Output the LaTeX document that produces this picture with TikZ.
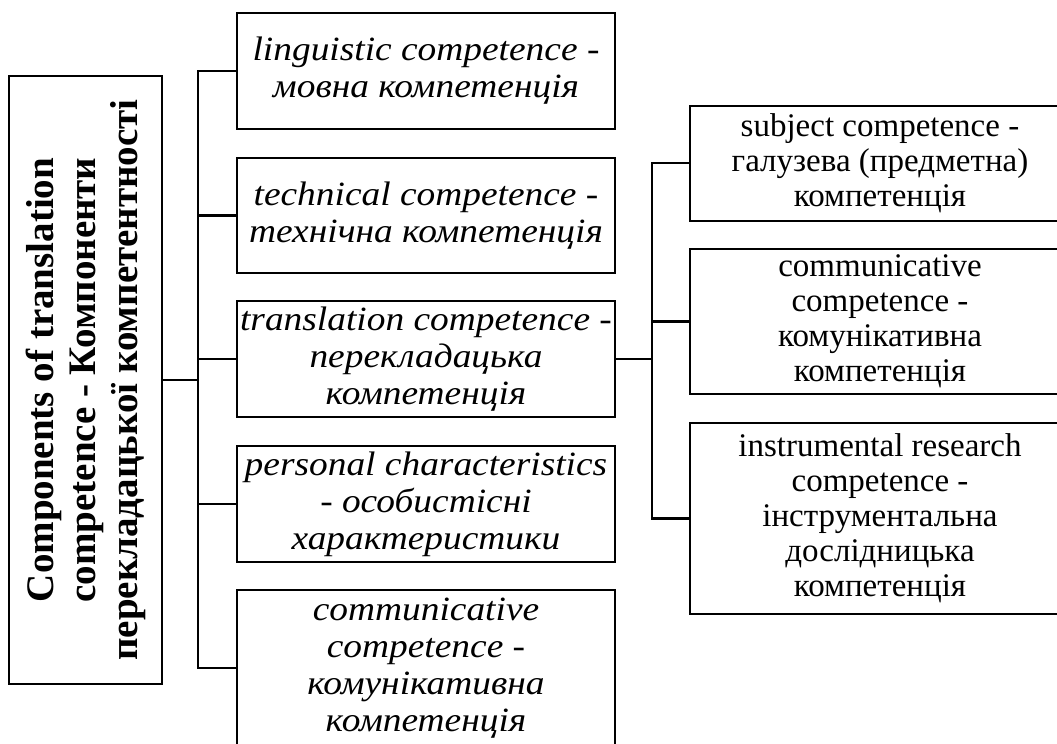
\documentclass[tikz,border=0pt]{standalone}
\usepackage{fontspec}
\setmainfont{Liberation Serif}
\newfontfamily\slfont{Liberation Serif}[FakeStretch=1.1]
\usetikzlibrary{positioning}
\tikzset{rootbox/.style={draw,line width=1.1pt,minimum width=76.5pt,minimum height=304pt,inner sep=0pt}  }
\tikzset{compbox/.style={draw,line width=1pt,minimum width=189pt,inner sep=0pt,align=center,font=\fontsize{17}{18.5}\selectfont\slfont\itshape}  }
\tikzset{subbox/.style={draw,line width=1pt,minimum width=190pt,inner sep=0pt,align=center,font=\fontsize{16.5}{17.5}\selectfont}  }
\tikzset{link/.style={line width=1.1pt,line cap=rect}  }

\begin{document}
\begin{tikzpicture}[x=0.5pt,y=-0.5pt]
	\useasboundingbox (0,0) rectangle (1057,744);
		\node[rootbox] (root) at (85.5,380) {};
		\node[rotate=90,align=center,font=\fontsize{19.5}{21}\selectfont\bfseries] (rootlbl) at (root.center)
			{Components of translation\\competence - Компоненти\\перекладацької компетентності};

		% components
		\node[compbox,minimum height=58pt] (ling) at (426,71) {linguistic competence -\\мовна компетенція};
		\node[compbox,minimum height=57.5pt] (tech) at (426,215.5) {technical competence -\\технічна компетенція};
		\node[compbox,minimum height=58pt] (trans) at (426,359) {translation competence -\\перекладацька\\компетенція};
		\node[compbox,minimum height=58pt] (pers) at (426,504) {personal characteristics\\- особистісні\\характеристики};
		\node[compbox,minimum height=78pt] (comm) at (426,668) {communicative\\competence -\\комунікативна\\компетенція};

		% parts of translation competence
		\node[subbox,minimum height=57.5pt] (subj) at (880,163) {subject competence -\\галузева (предметна)\\компетенція};
		\node[subbox,minimum height=72.5pt] (rcomm) at (880,321.5) {communicative\\competence -\\комунікативна\\компетенція};
		\node[subbox,minimum height=95.5pt] (instr) at (880,518.5) {instrumental research\\competence -\\інструментальна\\дослідницька\\компетенція};

		\coordinate (lbus) at (198,380);
		\coordinate (rbus) at (652,359);

		\draw[link] (root.east) -- (lbus);
		\draw[link] (ling.west -| lbus) -- (comm.west -| lbus);
		\foreach \n in {ling,tech,trans,pers,comm}
			\draw[link] (\n.west) -- (\n.west -| lbus);

		\draw[link] (trans.east) -- (rbus);
		\draw[link] (subj.west -| rbus) -- (instr.west -| rbus);
		\foreach \n in {subj,rcomm,instr}
			\draw[link] (\n.west) -- (\n.west -| rbus);
	\end{tikzpicture}
\end{document}
